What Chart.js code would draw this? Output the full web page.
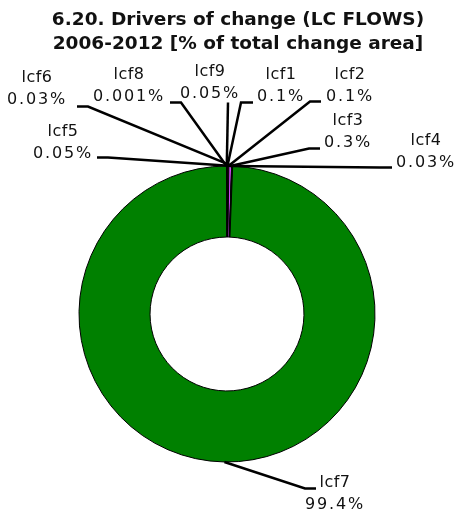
<!DOCTYPE html>
<html>
<head>
<meta charset="utf-8">
<script src="https://cdn.jsdelivr.net/npm/chart.js@4/dist/chart.umd.min.js"></script>
<style>
  html, body { margin: 0; padding: 0; background: #fff; }
  canvas { display: block; }
</style>
</head>
<body>
<canvas id="flows" width="459" height="517"></canvas>
<script>
const titulo = ['6.20. Drivers of change (LC FLOWS)', '2006-2012 [% of total change area]'];
const categorias = ['lcf1', 'lcf2', 'lcf3', 'lcf4', 'lcf5', 'lcf6', 'lcf7', 'lcf8', 'lcf9'];
const porcentajes = [0.1, 0.1, 0.3, 0.03, 0.05, 0.03, 99.4, 0.001, 0.05];
const colores = ['#e6004d', '#ff0000', '#cc4df2', '#a600cc', '#ffa6ff', '#e6cc4d', '#008000', '#80f2e6', '#a6a6ff'];

// donde va cada etiqueta, en px desde el centro del anillo: codo de la guía, fin de la guía, centro del texto
const posEtiquetas = [
  { codo: [14, -211.5], fin: [26, -211.5], txt: [54, -228] },
  { codo: [83, -212.5], fin: [94, -212.5], txt: [123, -228.5] },
  { codo: [82, -165.5], fin: [93, -165.5], txt: [121, -182.5] },
  { codo: [153, -146.5], fin: [165, -146.5], txt: [199, -162] },
  { codo: [-119, -156.5], fin: [-130, -156.5], txt: [-164, -171.5] },
  { codo: [-139, -207.5], fin: [-150, -207.5], txt: [-190, -225] },
  { codo: [78, 174.5], fin: [89, 174.5], txt: [108, 180] },
  { codo: [-46, -211.5], fin: [-57, -211.5], txt: [-98, -228] },
  { codo: [1, -211.5], fin: [1, -211.5], txt: [-17, -231.5] }
];

const tituloPlugin = {
  id: 'tituloPlugin',
  afterDraw(chart) {
    const ctx = chart.ctx;
    ctx.save();
    ctx.fillStyle = '#111';
    ctx.font = 'bold 18.5px "DejaVu Sans", Verdana, sans-serif';
    ctx.textAlign = 'center';
    ctx.textBaseline = 'alphabetic';
    ctx.fillText(titulo[0], 238, 25);
    ctx.fillText(titulo[1], 238, 49);
    ctx.restore();
  }
};

const guiasPlugin = {
  id: 'guiasPlugin',
  afterDatasetsDraw(chart) {
    const ctx = chart.ctx;
    const arcos = chart.getDatasetMeta(0).data;
    ctx.save();
    arcos.forEach((arco, i) => {
      const { x, y, startAngle, endAngle, outerRadius } = arco.getProps(['x', 'y', 'startAngle', 'endAngle', 'outerRadius'], true);
      const medio = (startAngle + endAngle) / 2;
      const p = posEtiquetas[i];
      const sx = x + Math.cos(medio) * outerRadius;
      const sy = y + Math.sin(medio) * outerRadius;
      ctx.strokeStyle = '#000';
      ctx.lineWidth = 2.5;
      ctx.beginPath();
      ctx.moveTo(sx, sy);
      ctx.lineTo(x + p.codo[0], y + p.codo[1]);
      ctx.lineTo(x + p.fin[0], y + p.fin[1]);
      ctx.stroke();

      const tx = x + p.txt[0];
      const ty = y + p.txt[1];
      ctx.fillStyle = '#111';
      ctx.textAlign = 'center';
      ctx.textBaseline = 'middle';
      ctx.font = '16px "DejaVu Sans", Verdana, sans-serif';
      ctx.letterSpacing = '0.5px';
      ctx.fillText(categorias[i], tx, ty - 11);
      ctx.letterSpacing = '1.8px';
      ctx.fillText(porcentajes[i] + '%', tx, ty + 11);
      ctx.letterSpacing = '0px';
    });
    ctx.restore();
  }
};

new Chart(document.getElementById('flows'), {
  type: 'doughnut',
  data: {
    labels: categorias,
    datasets: [{
      data: porcentajes,
      backgroundColor: colores,
      borderColor: '#000',
      borderWidth: 1
    }]
  },
  options: {
    responsive: false,
    animation: false,
    radius: 148,
    cutout: '52%',
    layout: { padding: { top: 111, bottom: 0, left: 0, right: 5 } },
    plugins: {
      legend: { display: false },
      tooltip: { enabled: false },
      title: { display: false }
    }
  },
  plugins: [guiasPlugin, tituloPlugin]
});
</script>
</body>
</html>
